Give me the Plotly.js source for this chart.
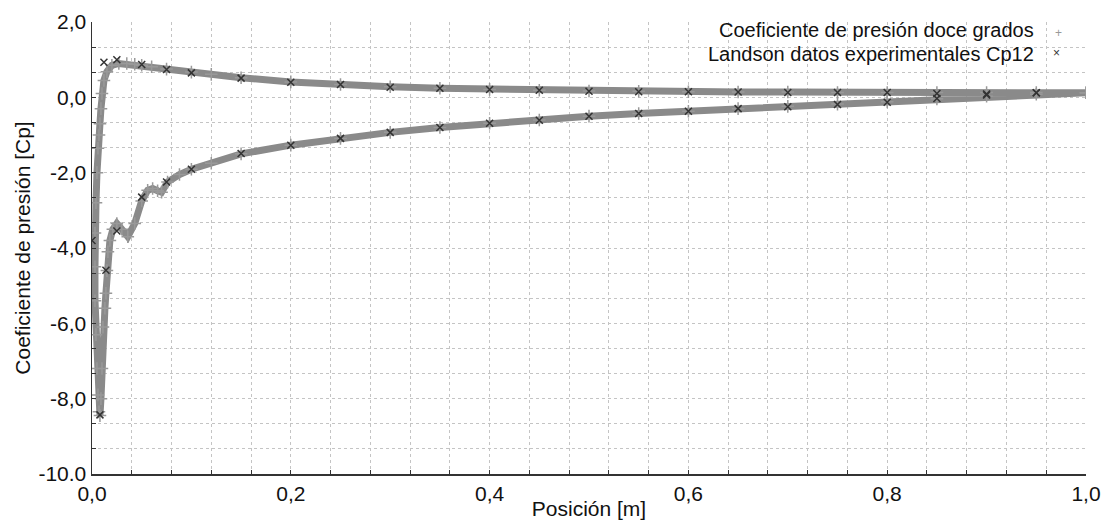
<!DOCTYPE html>
<html>
<head>
<meta charset="utf-8">
<script src="https://cdn.plot.ly/plotly-3.0.1.min.js"></script>
<style>html,body{margin:0;padding:0;background:#fff;}#chart{width:1103px;height:520px;}</style>
</head>
<body>
<div id="chart"></div>
<script>
// CFD pressure coefficient (12 degrees), traced along the surface: upper side TE -> LE -> suction side -> TE
const cfdX = [1.0, 0.95, 0.9, 0.85, 0.8, 0.75, 0.7, 0.65, 0.6, 0.55, 0.5, 0.45, 0.4, 0.35, 0.3, 0.25, 0.2, 0.15, 0.12, 0.1, 0.075, 0.06, 0.05, 0.043, 0.035, 0.027, 0.02, 0.015, 0.012, 0.010, 0.009, 0.008, 0.007, 0.006, 0.005, 0.004, 0.003, 0.003, 0.003, 0.004, 0.005, 0.006, 0.007, 0.008, 0.009, 0.010, 0.011, 0.013, 0.014, 0.015, 0.016, 0.018, 0.021, 0.025, 0.03, 0.036, 0.043, 0.05, 0.056, 0.061, 0.066, 0.07, 0.076, 0.088, 0.1, 0.12, 0.15, 0.2, 0.25, 0.3, 0.35, 0.4, 0.45, 0.5, 0.55, 0.6, 0.65, 0.7, 0.75, 0.8, 0.85, 0.9, 0.95, 1.0];
const cfdY = [0.12, 0.13, 0.13, 0.13, 0.13, 0.13, 0.14, 0.14, 0.15, 0.16, 0.17, 0.19, 0.21, 0.24, 0.28, 0.34, 0.41, 0.52, 0.61, 0.67, 0.75, 0.81, 0.85, 0.88, 0.9, 0.9, 0.85, 0.68, 0.45, 0.1, -0.3, -0.7, -1.0, -1.35, -2.0, -2.8, -3.6, -4.5, -5.4, -6.3, -7.2, -7.9, -8.35, -8.45, -8.0, -7.2, -6.1, -5.6, -5.2, -4.6, -4.1, -3.8, -3.5, -3.35, -3.5, -3.7, -3.35, -2.75, -2.47, -2.42, -2.48, -2.52, -2.25, -2.05, -1.91, -1.75, -1.5, -1.27, -1.09, -0.93, -0.8, -0.69, -0.6, -0.5, -0.43, -0.37, -0.3, -0.24, -0.18, -0.12, -0.04, 0.03, 0.08, 0.12];

// Landson experimental data Cp12
const expX = [0.012, 0.025, 0.05, 0.075, 0.1, 0.15, 0.2, 0.25, 0.3, 0.35, 0.4, 0.45, 0.5, 0.55, 0.6, 0.65, 0.7, 0.75, 0.8, 0.85, 0.9, 0.95,
              0.0, 0.008, 0.014, 0.025, 0.05, 0.075, 0.1, 0.15, 0.2, 0.25, 0.3, 0.35, 0.4, 0.45, 0.5, 0.55, 0.6, 0.65, 0.7, 0.75, 0.8, 0.85, 0.9, 0.95];
const expY = [0.93, 1.0, 0.87, 0.74, 0.65, 0.51, 0.40, 0.34, 0.27, 0.24, 0.21, 0.19, 0.16, 0.15, 0.15, 0.14, 0.13, 0.13, 0.13, 0.10, 0.09, 0.12,
              -3.8, -8.43, -4.59, -3.55, -2.65, -2.25, -1.91, -1.49, -1.27, -1.09, -0.93, -0.8, -0.69, -0.61, -0.5, -0.43, -0.37, -0.3, -0.25, -0.19, -0.13, -0.03, 0.06, 0.12];

const seriesNames = ["Coeficiente de presión doce grados", "Landson datos experimentales Cp12"];
const xTickVals = [0, 0.2, 0.4, 0.6, 0.8, 1.0];
const xTickText = ["0,0", "0,2", "0,4", "0,6", "0,8", "1,0"];
const yTickVals = [-10, -8, -6, -4, -2, 0, 2];
const yTickText = ["-10.0", "-8,0", "-6,0", "-4,0", "-2,0", "0,0", "2,0"];

const FONT = "Liberation Sans, Arial, sans-serif";
const gridCol = "#c4c4c4";

const traces = [
  {
    x: cfdX, y: cfdY, name: seriesNames[0], type: "scatter", mode: "lines+markers",
    line: {color: "#8a8a8a", width: 7},
    marker: {symbol: "cross-thin", size: 9, line: {color: "#999999", width: 1.5}},
    showlegend: false, hoverinfo: "x+y"
  },
  {
    x: expX, y: expY, name: seriesNames[1], type: "scatter", mode: "markers",
    marker: {symbol: "x-thin", size: 7, line: {color: "#333333", width: 1.5}},
    showlegend: false, hoverinfo: "x+y"
  }
];

const layout = {
  width: 1103, height: 520,
  margin: {l: 92, r: 17, t: 22, b: 46},
  paper_bgcolor: "#ffffff", plot_bgcolor: "#ffffff",
  font: {family: FONT, color: "#111", size: 21},
  showlegend: false,
  xaxis: {
    range: [0, 1], tickvals: xTickVals, ticktext: xTickText,
    ticklabeloverflow: "allow",
    showline: true, linecolor: "#333", linewidth: 1.5,
    ticks: "inside", ticklen: 4, tickcolor: "#333",
    showgrid: true, gridcolor: gridCol, griddash: "dot", gridwidth: 1,
    zeroline: false,
    minor: {dtick: 0.04, tick0: 0, ticks: "inside", ticklen: 4, tickcolor: "#333", showgrid: true, gridcolor: gridCol, griddash: "dot", gridwidth: 1},
    tickfont: {size: 21, family: FONT, color: "#111"},
    title: {text: "Posición [m]", font: {size: 21, family: FONT, color: "#111"}, standoff: 0}
  },
  yaxis: {
    range: [-10, 2], tickvals: yTickVals, ticktext: yTickText,
    ticklabeloverflow: "allow",
    showline: true, linecolor: "#333", linewidth: 1.5,
    ticks: "inside", ticklen: 4, tickcolor: "#333",
    showgrid: false, zeroline: false,
    minor: {dtick: 2/3, tick0: -10, ticks: "inside", ticklen: 4, tickcolor: "#333", showgrid: true, gridcolor: gridCol, griddash: "dot", gridwidth: 1},
    tickfont: {size: 21, family: FONT, color: "#111"},
    title: {text: "Coeficiente de presión [Cp]", font: {size: 21, family: FONT, color: "#111"}, standoff: 2}
  },
  annotations: [
    {xref: "paper", yref: "paper", x: 0.950, y: 0.982, xanchor: "right", yanchor: "middle", showarrow: false,
     text: seriesNames[0], font: {size: 20, family: FONT, color: "#111"}},
    {xref: "paper", yref: "paper", x: 0.950, y: 0.930, xanchor: "right", yanchor: "middle", showarrow: false,
     text: seriesNames[1], font: {size: 20, family: FONT, color: "#111"}},
    {xref: "paper", yref: "paper", x: 0.972, y: 0.976, xanchor: "center", yanchor: "middle", showarrow: false,
     text: "+", font: {size: 12, family: FONT, color: "#999"}},
    {xref: "paper", yref: "paper", x: 0.970, y: 0.932, xanchor: "center", yanchor: "middle", showarrow: false,
     text: "×", font: {size: 12, family: FONT, color: "#333"}}
  ]
};

Plotly.newPlot("chart", traces, layout, {displayModeBar: false, staticPlot: true});
</script>
</body>
</html>
